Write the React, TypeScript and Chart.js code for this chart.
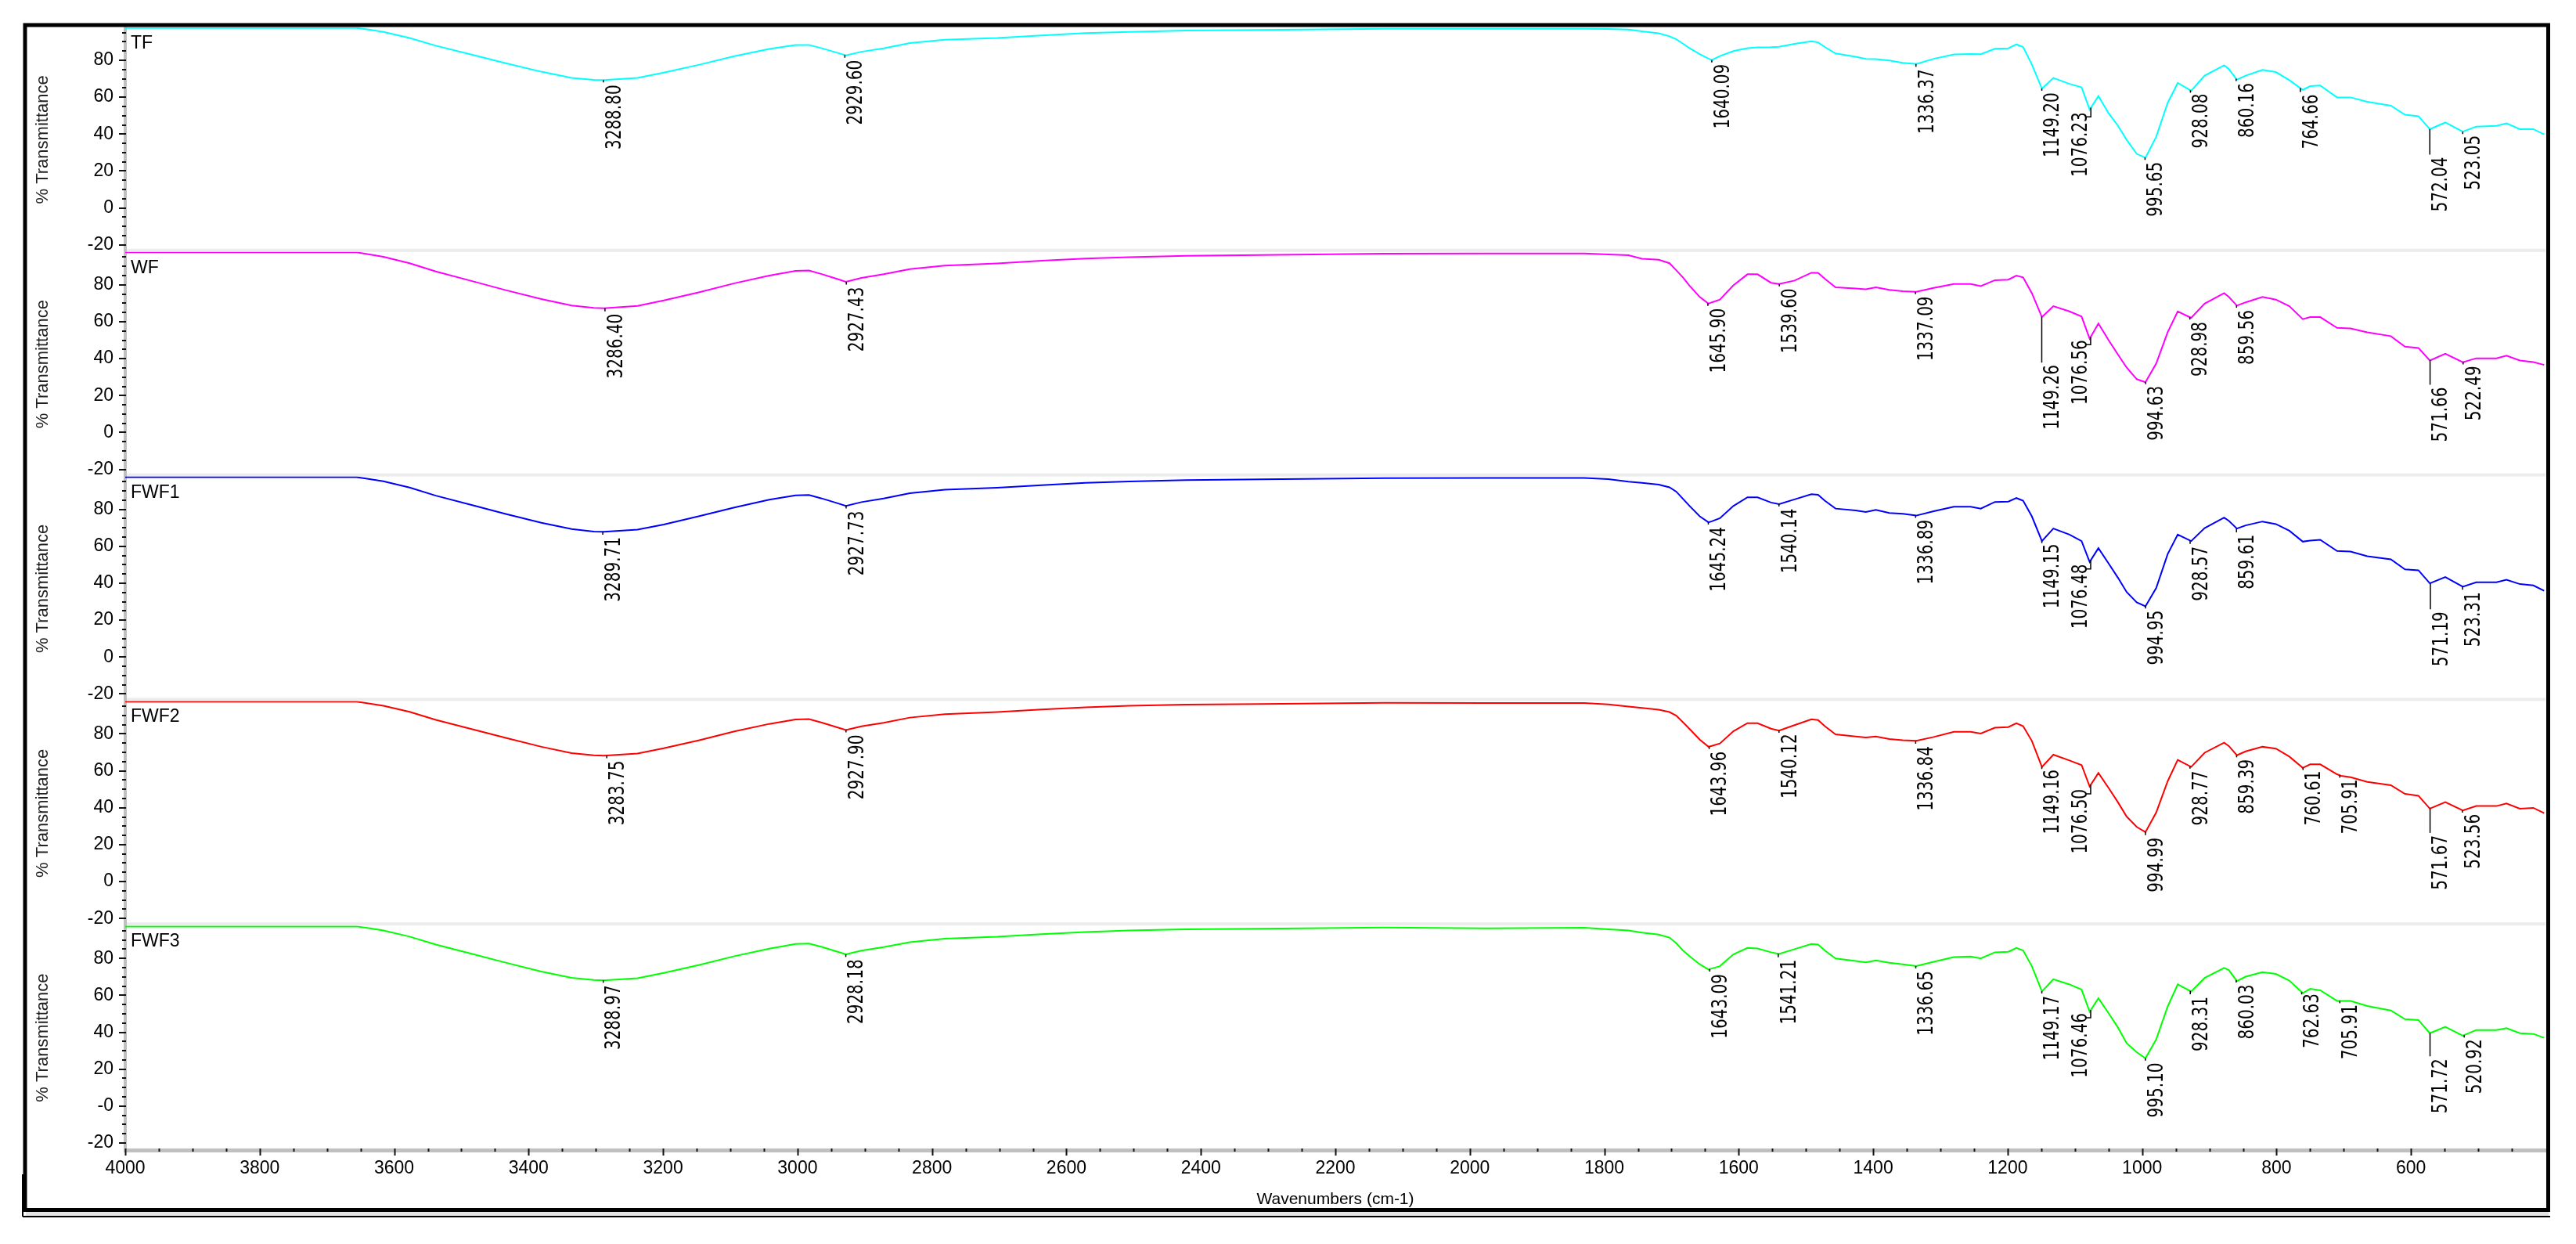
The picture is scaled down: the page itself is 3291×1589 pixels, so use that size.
import React, { useEffect, useRef } from 'react';
import { Chart, registerables } from 'chart.js';

Chart.register(...registerables);

const W = 3291;
const H = 1589;

// Wavenumber grid (cm-1), shared by all five spectra
const wavenumbers = [
  4000, 3656, 3642, 3616, 3577, 3538, 3486, 3434, 3381, 3336, 3303, 3288, 3238, 3199, 3146, 3094, 3042,
  3003, 2983, 2964, 2944, 2928, 2905, 2872, 2833, 2781, 2703, 2637, 2572, 2507, 2422, 2311, 2128,
  1975, 1830, 1794, 1764, 1744, 1719, 1703, 1693, 1683, 1673, 1658, 1645, 1640, 1628, 1608,
  1587, 1572, 1552, 1540, 1517, 1492, 1482, 1472, 1456, 1426, 1411, 1396, 1376, 1356, 1336,
  1310, 1280, 1255, 1240, 1219, 1199, 1187, 1177, 1164, 1149, 1132, 1108, 1090, 1078, 1065,
  1050, 1036, 1023, 1008, 995, 979, 962, 947, 927, 907, 878, 871, 859, 846, 821,
  801, 781, 761, 750, 735, 710, 704, 690, 665, 630, 609, 589, 572, 549, 523,
  503, 473, 458, 438, 418, 402,
];

const tfValues = [
  97.5, 97.5, 96.8, 95.4, 92.1, 87.9, 83.2, 78.4, 73.8, 70.5, 69.4, 69.3, 70.5, 73.3, 77.6, 82.2, 86.1,
  88.3, 88.3, 86.5, 84.4, 82.7, 84.6, 86.5, 89.3, 91.1, 92.1, 93.5, 94.7, 95.4, 96.1, 96.4, 97.1,
  97.1, 97.1, 97.0, 96.6, 95.7, 94.6, 93.0, 91.4, 89.0, 86.5, 83.3, 80.9, 80.1, 82.3, 85.0,
  86.6, 87.0, 87.1, 87.3, 88.9, 90.3, 89.7, 87.2, 83.7, 81.9, 80.7, 80.6, 79.9, 78.6, 78.0,
  80.8, 83.2, 83.4, 83.3, 86.2, 86.5, 88.6, 87.2, 77.7, 64.6, 70.4, 67.2, 65.3, 53.3, 60.6,
  51.4, 44.6, 36.9, 29.3, 27.2, 38.6, 56.9, 67.7, 63.5, 71.7, 77.3, 75.2, 69.5, 71.7, 74.8,
  73.6, 69.2, 64.0, 66.0, 66.3, 59.9, 59.9, 59.9, 57.5, 55.4, 50.5, 49.7, 42.7, 46.3, 41.3,
  44.1, 44.5, 45.8, 42.7, 42.7, 39.9,
];

const wfValues = [
  97.6, 97.6, 96.8, 95.2, 91.7, 87.2, 82.2, 77.1, 72.3, 68.8, 67.5, 67.3, 68.6, 71.5, 76.0, 80.8, 85.0,
  87.5, 87.7, 85.8, 83.5, 81.6, 83.7, 85.7, 88.5, 90.4, 91.6, 93.0, 94.2, 95.0, 95.7, 96.1, 96.9,
  97.0, 97.0, 96.4, 96.0, 94.1, 93.6, 91.7, 87.9, 84.0, 79.4, 73.4, 69.8, 70.5, 72.0, 79.7,
  85.7, 85.7, 81.1, 80.4, 82.3, 86.5, 86.5, 83.3, 78.6, 78.0, 77.6, 78.6, 77.3, 76.5, 76.2,
  78.3, 80.4, 80.4, 79.3, 82.5, 82.8, 85.0, 84.0, 75.5, 62.5, 68.4, 65.6, 62.8, 50.8, 59.0,
  50.1, 42.3, 35.2, 28.9, 27.2, 37.4, 54.3, 65.6, 62.1, 69.8, 75.5, 73.4, 68.7, 70.5, 73.4,
  72.0, 68.4, 61.4, 62.5, 62.5, 56.7, 56.6, 56.4, 54.3, 52.2, 46.5, 45.8, 39.0, 42.7, 38.1,
  40.2, 40.2, 41.6, 39.0, 38.1, 36.6,
];

const fwf1Values = [
  97.4, 97.4, 96.7, 95.2, 91.8, 87.4, 82.5, 77.5, 72.7, 69.3, 68.0, 67.8, 69.0, 71.8, 76.3, 81.0, 85.2,
  87.6, 87.8, 85.9, 83.7, 81.9, 83.9, 85.9, 88.7, 90.6, 91.7, 93.1, 94.3, 95.1, 95.8, 96.2, 96.9,
  97.0, 97.0, 96.4, 95.0, 94.3, 93.4, 91.9, 89.6, 85.7, 81.8, 76.2, 73.0, 73.5, 75.2, 81.8,
  86.5, 86.5, 83.7, 82.8, 85.4, 88.2, 87.9, 84.7, 80.4, 79.4, 78.6, 79.7, 78.0, 77.6, 76.6,
  79.0, 81.4, 81.4, 80.4, 84.0, 84.2, 86.1, 84.7, 76.2, 62.8, 69.6, 66.3, 62.8, 51.5, 59.0,
  50.8, 43.0, 35.2, 29.6, 27.5, 37.4, 55.7, 66.3, 62.8, 69.8, 75.5, 73.8, 69.6, 71.3, 73.4,
  72.0, 68.4, 62.5, 63.1, 63.5, 57.4, 57.3, 57.1, 54.6, 52.9, 47.5, 47.0, 39.9, 43.3, 38.1,
  40.5, 40.5, 41.9, 39.5, 38.8, 35.9,
];

const fwf2Values = [
  97.4, 97.4, 96.7, 95.2, 91.9, 87.6, 82.7, 77.8, 73.0, 69.6, 68.4, 68.2, 69.4, 72.2, 76.6, 81.3, 85.4,
  87.8, 88.0, 86.1, 83.9, 82.1, 84.1, 86.0, 88.8, 90.7, 91.8, 93.2, 94.4, 95.2, 95.9, 96.2, 96.8,
  96.7, 96.7, 96.0, 94.8, 94.0, 93.1, 91.8, 89.9, 86.3, 82.6, 76.9, 73.0, 73.5, 74.8, 81.4,
  85.8, 85.8, 82.8, 81.8, 84.7, 87.9, 87.5, 84.2, 79.7, 78.6, 78.0, 78.6, 77.2, 76.6, 76.2,
  78.3, 81.1, 81.1, 80.2, 83.3, 83.7, 85.7, 84.2, 76.2, 62.1, 68.7, 65.6, 63.1, 51.5, 58.8,
  50.8, 43.0, 35.2, 29.6, 26.8, 37.4, 54.3, 65.9, 62.1, 69.8, 75.2, 73.4, 68.4, 70.5, 73.0,
  72.0, 67.7, 61.6, 63.5, 63.5, 58.1, 57.3, 56.5, 54.0, 52.2, 47.5, 46.5, 39.5, 43.0, 38.5,
  40.9, 40.9, 42.3, 39.5, 39.9, 37.1,
];

const fwf3Values = [
  97.3, 97.3, 96.6, 95.1, 91.8, 87.5, 82.6, 77.7, 72.9, 69.5, 68.3, 68.1, 69.3, 72.1, 76.5, 81.2, 85.3,
  87.8, 88.0, 86.2, 84.0, 82.2, 84.2, 86.1, 88.8, 90.7, 91.7, 93.1, 94.3, 95.1, 95.8, 96.1, 96.7,
  96.3, 96.6, 95.8, 95.1, 94.0, 92.9, 91.3, 88.2, 84.3, 81.1, 76.8, 74.0, 74.5, 75.8, 82.2,
  85.7, 85.4, 83.3, 82.4, 85.0, 87.8, 87.5, 84.3, 80.0, 78.6, 77.9, 78.9, 77.6, 76.8, 75.8,
  78.2, 80.7, 81.0, 80.0, 83.3, 83.6, 85.7, 84.3, 75.8, 62.1, 68.7, 65.9, 63.1, 51.1, 58.4,
  50.4, 42.6, 34.1, 29.2, 25.9, 36.2, 53.9, 65.9, 62.1, 69.4, 74.8, 73.7, 67.7, 70.1, 72.5,
  71.6, 68.0, 61.2, 63.5, 62.7, 57.0, 57.0, 57.0, 54.2, 51.8, 47.1, 46.6, 39.5, 42.9, 38.1,
  41.2, 41.2, 42.2, 39.5, 39.1, 37.0,
];

// Labelled peaks (cm-1) and the %T level where each label's text begins
const tfPeaks = [3288.8, 2929.6, 1640.09, 1336.37, 1149.2, 1076.23, 995.65, 928.08, 860.16, 764.66, 572.04, 523.05];
const tfPeakTextTop = [66.7, 80.1, 78.0, 75.2, 62.5, 51.9, 25.0, 62.0, 67.7, 61.5, 27.6, 39.4];
const wfPeaks = [3286.4, 2927.43, 1645.9, 1539.6, 1337.09, 1149.26, 1076.56, 994.63, 928.98, 859.56, 571.66, 522.49];
const wfPeakTextTop = [64.3, 78.8, 67.3, 78.0, 73.8, 36.6, 50.1, 25.3, 60.0, 66.3, 24.6, 36.1];
const fwf1Peaks = [3289.71, 2927.73, 1645.24, 1540.14, 1336.89, 1149.15, 1076.48, 994.95, 928.57, 859.61, 571.19, 523.31];
const fwf1PeakTextTop = [65.0, 79.2, 70.5, 80.4, 74.4, 61.4, 50.3, 25.3, 60.0, 66.3, 24.6, 35.2];
const fwf2Peaks = [3283.75, 2927.9, 1643.96, 1540.12, 1336.84, 1149.16, 1076.5, 994.99, 928.77, 859.39, 760.61, 705.91, 571.67, 523.56];
const fwf2PeakTextTop = [65.5, 79.5, 70.5, 80.0, 73.4, 60.7, 50.1, 23.9, 60.0, 66.3, 60.0, 55.4, 25.1, 36.6];
const fwf3Peaks = [3288.97, 2928.18, 1643.09, 1541.21, 1336.65, 1149.17, 1076.46, 995.1, 928.31, 860.03, 762.63, 705.91, 571.72, 520.92];
const fwf3PeakTextTop = [65.5, 79.5, 71.6, 79.3, 73.3, 59.8, 50.4, 23.5, 59.3, 65.9, 61.0, 55.0, 25.7, 36.3];

const seriesNames = ['TF', 'WF', 'FWF1', 'FWF2', 'FWF3'];
const seriesColors = ['#00ffff', '#ff00ff', '#0000ff', '#ff0000', '#00ff00'];
const seriesValues = [tfValues, wfValues, fwf1Values, fwf2Values, fwf3Values];
const seriesPeaks = [tfPeaks, wfPeaks, fwf1Peaks, fwf2Peaks, fwf3Peaks];
const seriesPeakTextTop = [tfPeakTextTop, wfPeakTextTop, fwf1PeakTextTop, fwf2PeakTextTop, fwf3PeakTextTop];

const xTickValues = [4000, 3800, 3600, 3400, 3200, 3000, 2800, 2600, 2400, 2200, 2000, 1800, 1600, 1400, 1200, 1000, 800, 600];
const yTickValues = [-20, 0, 20, 40, 60, 80];
const yTickLabels = ['-20', '0', '20', '40', '60', '80'];
const yTickLabelsBottom = ['-20', '-0', '20', '40', '60', '80'];

const yIds = ['yTF', 'yWF', 'yFWF1', 'yFWF2', 'yFWF3'];
const FONT = '"Liberation Sans", Arial, sans-serif';
const LABEL_FONT = '"DejaVu Sans", Verdana, sans-serif';

function valueAt(vals: number[], w: number): number {
  for (let j = 0; j < wavenumbers.length - 1; j++) {
    const a = wavenumbers[j];
    const b = wavenumbers[j + 1];
    if (w <= a && w >= b) {
      const t = (a - w) / (a - b);
      return vals[j] + t * (vals[j + 1] - vals[j]);
    }
  }
  return vals[vals.length - 1];
}

const decorPlugin = {
  id: 'decor',
  beforeDraw(chart: any) {
    const ctx = chart.ctx;
    ctx.save();
    ctx.fillStyle = '#ffffff';
    ctx.fillRect(0, 0, W, H);
    ctx.restore();
  },
  beforeDatasetsDraw(chart: any) {
    const ctx = chart.ctx;
    const area = chart.chartArea;
    ctx.save();
    ctx.fillStyle = '#ececec';
    for (let i = 0; i < yIds.length - 1; i++) {
      const s = chart.scales[yIds[i]];
      ctx.fillRect(area.left + 2, s.bottom - 4, area.right - area.left - 2, 4);
    }
    ctx.restore();
  },
  afterDraw(chart: any) {
    const ctx = chart.ctx;
    const area = chart.chartArea;
    const xs = chart.scales.x;
    ctx.save();

    // outer frame
    ctx.fillStyle = '#e4e4e4';
    ctx.fillRect(33, 1548, 3223, 5);
    ctx.strokeStyle = '#000';
    ctx.lineWidth = 5;
    ctx.strokeRect(32, 32, 3223.5, 1513.5);
    ctx.lineWidth = 2;
    ctx.beginPath();
    ctx.moveTo(29, 1554);
    ctx.lineTo(3258, 1554);
    ctx.moveTo(29, 1554);
    ctx.lineTo(29, 1500);
    ctx.stroke();

    // x tick marks
    ctx.strokeStyle = '#111';
    ctx.lineWidth = 2;
    ctx.beginPath();
    for (let v = 4000; v >= 450; v -= 50) {
      const px = Math.round(xs.getPixelForValue(v)) + 0.5;
      const major = v % 200 === 0;
      ctx.moveTo(px, area.bottom - 2);
      ctx.lineTo(px, area.bottom + (major ? 7 : 2));
    }
    ctx.stroke();

    // y tick marks + panel names
    for (let i = 0; i < yIds.length; i++) {
      const s = chart.scales[yIds[i]];
      ctx.strokeStyle = '#111';
      ctx.lineWidth = 2;
      ctx.beginPath();
      for (let v = -20; v <= 95; v += 5) {
        const py = Math.round(s.getPixelForValue(v));
        const major = v % 20 === 0;
        ctx.moveTo(area.left - (major ? 8 : 4), py);
        ctx.lineTo(area.left + 1, py);
      }
      ctx.stroke();
      ctx.fillStyle = '#000';
      ctx.font = `23px ${FONT}`;
      ctx.textAlign = 'left';
      ctx.textBaseline = 'alphabetic';
      ctx.fillText(seriesNames[i], area.left + 7, s.top + 27);
    }

    // peak labels
    for (let i = 0; i < yIds.length; i++) {
      const s = chart.scales[yIds[i]];
      const peaks = seriesPeaks[i];
      const tops = seriesPeakTextTop[i];
      for (let k = 0; k < peaks.length; k++) {
        const wn = peaks[k];
        const px = xs.getPixelForValue(wn);
        const py = s.getPixelForValue(valueAt(seriesValues[i], wn));
        const ty = s.getPixelForValue(tops[k]);
        const bracket = wn > 1070 && wn < 1085;
        ctx.strokeStyle = '#000';
        ctx.lineWidth = 1.5;
        ctx.beginPath();
        if (bracket) {
          ctx.moveTo(px, py);
          ctx.lineTo(px, ty + 6);
          ctx.lineTo(px - 6, ty + 6);
        } else {
          ctx.moveTo(px, py);
          ctx.lineTo(px, Math.max(py + 3, ty - 3));
        }
        ctx.stroke();
        ctx.save();
        ctx.translate(bracket ? px - 12 : px + 15, ty);
        ctx.rotate(-Math.PI / 2);
        ctx.scale(1, 1.3);
        ctx.fillStyle = '#000';
        ctx.font = `20px ${LABEL_FONT}`;
        ctx.textAlign = 'right';
        ctx.textBaseline = 'middle';
        ctx.fillText(wn.toFixed(2), 0, 0);
        ctx.restore();
      }
    }
    ctx.restore();
  },
};

export default function App() {
  const canvasRef = useRef<HTMLCanvasElement | null>(null);

  useEffect(() => {
    const canvas = canvasRef.current;
    if (!canvas) return;

    const scales: any = {
      x: {
        type: 'linear',
        position: 'bottom',
        reverse: true,
        min: 400,
        max: 4000,
        afterFit: (s: any) => {
          s.height = 80;
        },
        afterBuildTicks: (s: any) => {
          s.ticks = xTickValues.map((v) => ({ value: v }));
        },
        ticks: {
          autoSkip: false,
          maxRotation: 0,
          minRotation: 0,
          padding: 10,
          color: '#000',
          font: { family: FONT, size: 23 },
          callback: (v: any) => String(v),
        },
        grid: { display: true, drawOnChartArea: false, drawTicks: false, color: 'rgba(0,0,0,0)' },
        border: { display: true, color: '#c0c0c0', width: 5 },
        title: {
          display: true,
          text: 'Wavenumbers (cm-1)',
          color: '#000',
          font: { family: FONT, size: 21 },
          padding: { top: 0, bottom: 4 },
        },
      },
    };

    yIds.forEach((id, i) => {
      const labels = i === yIds.length - 1 ? yTickLabelsBottom : yTickLabels;
      scales[id] = {
        type: 'linear',
        position: 'left',
        stack: 'panels',
        stackWeight: 1,
        weight: yIds.length - i,
        min: -23.8,
        max: 97.8,
        afterFit: (s: any) => {
          s.width = 124;
        },
        afterBuildTicks: (s: any) => {
          s.ticks = yTickValues.map((v) => ({ value: v }));
        },
        ticks: {
          autoSkip: false,
          padding: 15,
          color: '#000',
          font: { family: FONT, size: 23 },
          callback: (v: any) => {
            const idx = yTickValues.indexOf(Number(v));
            return idx >= 0 ? labels[idx] : '';
          },
        },
        grid: { display: true, drawOnChartArea: false, drawTicks: false, color: 'rgba(0,0,0,0)' },
        border: { display: true, color: '#c0c0c0', width: 4 },
        title: {
          display: true,
          text: '% Transmittance',
          color: '#222',
          font: { family: FONT, size: 22 },
          padding: { top: 6, bottom: 0 },
        },
      };
    });

    const chart = new Chart(canvas, {
      type: 'line',
      data: {
        datasets: seriesValues.map((vals, i) => ({
          label: seriesNames[i],
          data: wavenumbers.map((w, j) => ({ x: w, y: vals[j] })),
          xAxisID: 'x',
          yAxisID: yIds[i],
          borderColor: seriesColors[i],
          backgroundColor: seriesColors[i],
          borderWidth: 2,
          pointRadius: 0,
          tension: 0,
          fill: false,
        })),
      },
      options: {
        animation: false,
        responsive: false,
        devicePixelRatio: 1,
        events: [],
        layout: { padding: { left: 36, right: 39, top: 35, bottom: 40 } },
        plugins: {
          legend: { display: false },
          tooltip: { enabled: false },
          title: { display: false },
        },
        scales,
      },
      plugins: [decorPlugin],
    } as any);

    return () => {
      chart.destroy();
    };
  }, []);

  return (
    <div style={{ position: 'absolute', left: 0, top: 0, width: W, height: H, background: '#fff' }}>
      <canvas ref={canvasRef} width={W} height={H} style={{ width: W, height: H, display: 'block' }} />
    </div>
  );
}
